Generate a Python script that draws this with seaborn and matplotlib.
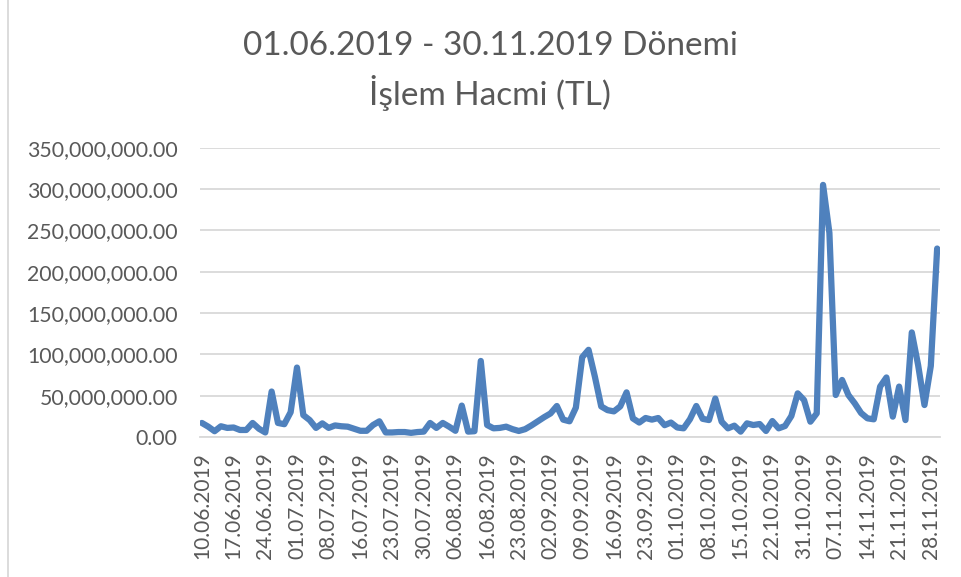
import matplotlib
matplotlib.use('Agg')
import matplotlib.pyplot as plt
import matplotlib.ticker as mticker
import numpy as np
import pandas as pd
import seaborn as sns

# trading days shown on the chart (weekdays minus market holidays / missing days)
start_day = '2019-06-10'
end_day = '2019-11-29'
closed_days = ['2019-07-15', '2019-08-12', '2019-08-13', '2019-08-14',
               '2019-08-30', '2019-09-27', '2019-10-28', '2019-10-29']

# daily volume, million TL
volume_m = [17, 12.5, 7, 13, 11, 11.5, 8.5, 8.5, 17, 10,
            5.5, 55, 17, 15.5, 30, 84, 26.5, 20.5, 11, 16.5,
            11, 14, 13, 12.5, 10, 7.5, 7.5, 14.5, 19, 5.5,
            5.5, 6, 6, 5, 6, 6.5, 17, 11, 17, 12.5,
            7.5, 38, 6.5, 7, 92, 14.5, 10.5, 11, 12.5, 9.5,
            7.3, 9.5, 14, 19, 24, 28.5, 37.5, 21, 19, 35.5,
            96.5, 105.5, 73, 37, 32.5, 31, 37, 54, 22.5, 17.5,
            23, 21, 23, 14.3, 17.5, 11.5, 10.5, 21.5, 37.5, 22,
            20.5, 46.5, 18.5, 10.5, 13.7, 6.5, 16.5, 14.5, 15.7, 7.3,
            19.3, 10.5, 13.3, 25.4, 52.8, 44.7, 18.5, 28.6, 305, 247,
            50.8, 69, 50.8, 40.7, 29, 22.6, 21.4, 61, 72, 24.6,
            61, 20.5, 126.5, 87, 38.7, 86, 228]

title = '01.06.2019 - 30.11.2019 Dönemi\nİşlem Hacmi (TL)'

days = pd.bdate_range(start_day, end_day)
days = days[~days.isin(pd.to_datetime(closed_days))]
df = pd.DataFrame({'pos': np.arange(len(days)),
                   'tarih': days.strftime('%d.%m.%Y'),
                   'hacim': np.array(volume_m) * 1e6})

sns.set_style('white')
plt.rcParams['font.family'] = ['Lato', 'DejaVu Sans']

text_c = '#595959'
grid_c = '#d9d9d9'

fig = plt.figure(figsize=(9.62, 5.77), dpi=100)
ax = fig.add_axes([200 / 962, 140 / 577, 740 / 962, 289.3 / 577])

sns.lineplot(data=df, x='pos', y='hacim', color='#4f81bd', linewidth=4.5,
             solid_joinstyle='round', solid_capstyle='round', ax=ax)

ax.set_ylim(0, 350e6)
ax.set_xlim(-0.3, len(df) - 0.55)
ax.yaxis.set_major_locator(mticker.MultipleLocator(50e6))
ax.yaxis.set_major_formatter(mticker.FuncFormatter(lambda v, p: f'{v:,.2f}'))
ax.grid(axis='y', color=grid_c, linewidth=1.3)
ax.set_axisbelow(True)

ticks = df['pos'][::5]
ax.set_xticks(ticks)
ax.set_xticklabels(df['tarih'][::5], rotation=90)
ax.tick_params(axis='x', length=0, pad=11, labelsize=15, labelcolor=text_c)
ax.tick_params(axis='y', length=0, pad=16, labelsize=15.3, labelcolor=text_c)

for s in ['top', 'right', 'left']:
    ax.spines[s].set_visible(False)
ax.spines['bottom'].set_color(grid_c)
ax.spines['bottom'].set_linewidth(1.3)
ax.set_xlabel('')
ax.set_ylabel('')

fig.text(490 / 962, 1 - 71 / 577, title, ha='center', va='center',
         fontsize=24, color=text_c, linespacing=1.45, fontweight='normal')

fig.add_artist(plt.Line2D([8 / 962, 8 / 962], [0, 1], color=grid_c, linewidth=1.3))

fig.savefig('out.png', dpi=100)
